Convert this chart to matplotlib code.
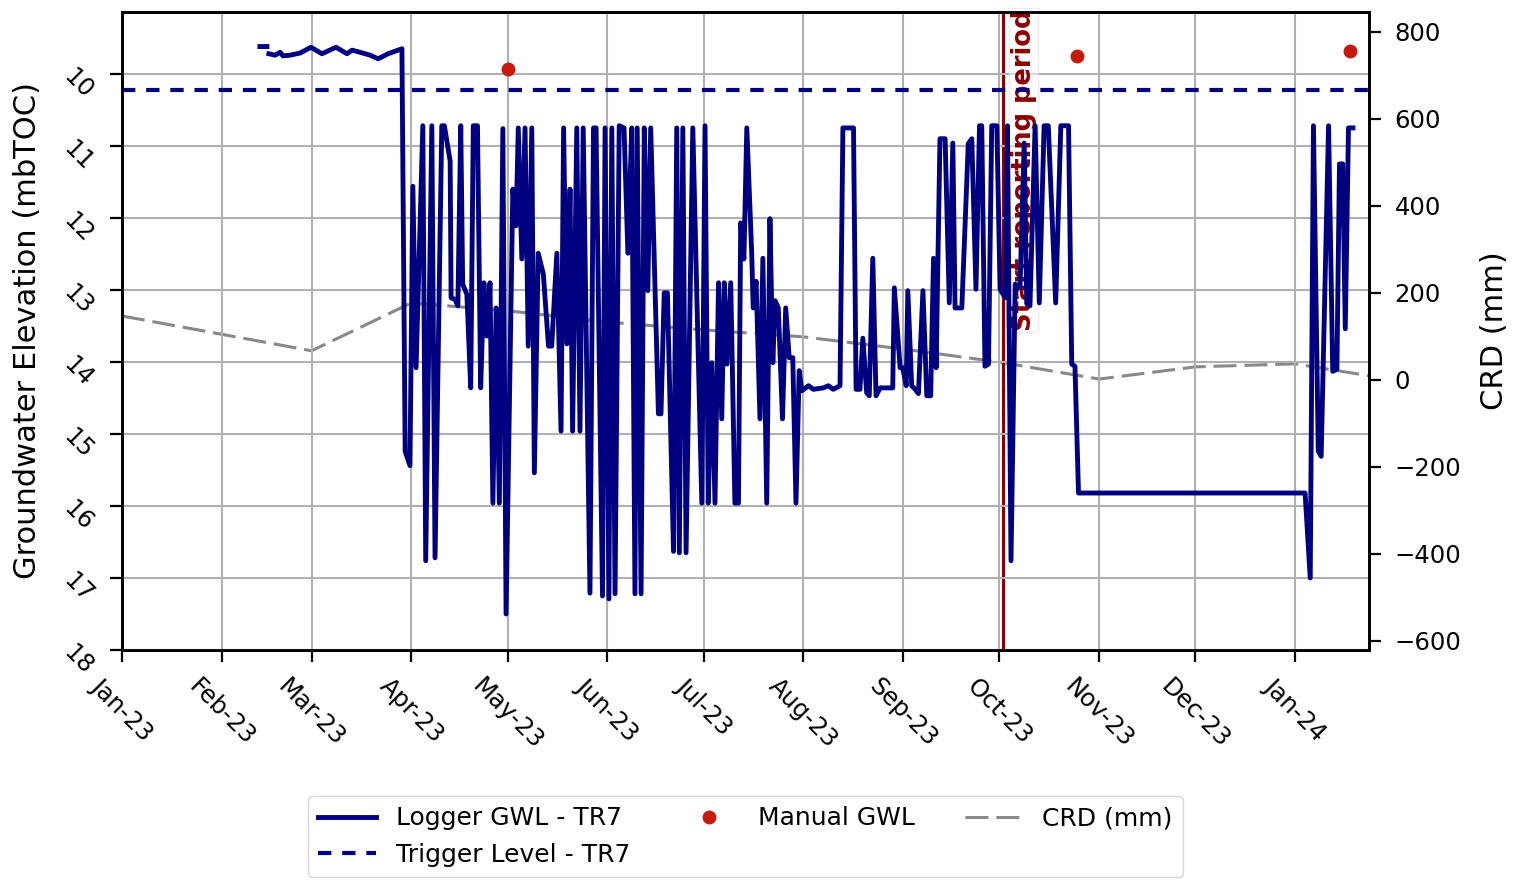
import numpy as np
import pandas as pd
import matplotlib
matplotlib.use("Agg")
import matplotlib.pyplot as plt
import matplotlib.dates as mdates
import matplotlib.transforms as mtransforms

START = pd.Timestamp("2023-01-01")

# logger readings, days after 1 Jan 2023 and depth (mbTOC); nan marks a gap
logger_days = [
    42.9, 45.1, 45.4, 45.7, 47.6, 49.2, 50.1, 52.3, 55.4, 58.8, 62.2, 66.6,
    70.0, 71.6, 74.1, 77.2, 79.7, 82.8, 87.1,
    88.1, 89.6, 90.5, 91.5, 93.6, 94.5, 96.4, 97.4, 99.5, 100.3, 102.1, 102.4,
    103.6, 104.5, 105.4, 106.0, 107.3, 108.5, 109.3, 110.6, 111.6, 112.6, 113.5,
    114.5, 115.4, 116.4, 117.4, 118.5, 119.5, 121.6, 122.6, 123.3, 124.4, 125.4,
    126.4, 127.5, 128.3, 129.5, 131.1, 132.7, 133.7, 135.3, 136.6, 137.4, 138.4,
    139.4, 140.2, 141.5, 142.5, 143.5, 145.6, 146.7, 147.5, 149.5, 150.3, 151.5,
    152.4, 153.4, 154.7, 156.2, 157.4, 158.6, 159.6, 160.3, 161.5, 162.5, 163.6,
    164.5, 166.9, 167.7, 168.7, 169.7, 171.6, 172.6, 173.4, 174.5, 175.5, 177.6,
    180.4, 181.4, 182.4, 183.5, 184.5, 185.6, 186.6, 187.4, 188.2, 189.4, 190.7,
    191.8, 192.5, 193.5, 194.4, 195.9, 196.4, 197.3, 198.5, 199.4, 200.6, 201.6,
    202.5, 203.2, 204.2, 205.5, 206.5, 207.6, 208.7, 209.7, 210.7, 211.5, 213.6,
    215.1, 218.2, 219.8, 221.3, 223.4, 224.3, 227.6, 228.4, 229.6, 230.5, 231.7,
    232.5, 233.6, 234.6, 235.9, 239.8, 240.3, 242.1, 242.9, 244.0, 244.5, 245.7,
    246.8, 247.8, 249.2, 250.4, 251.6, 252.5, 253.3, 254.5, 256.1, 257.4, 258.5,
    259.2, 261.3, 263.3, 264.4, 265.7, 266.8, 267.5, 268.5, 269.6, 270.6, 272.2,
    273.2, 274.8, 275.5, 276.6, 277.9, 279.4, 280.7, 281.5, 282.5, 284.1, 285.4,
    286.9, 288.2, 290.5, 292.1, 294.5, 295.5, 296.5, 297.6, 368.1, 369.7, 370.7,
    372.2, 373.1, 375.4, 376.7, 378.0, 378.8, 379.8, 380.6, 381.6, 383.0,
]
logger_gwl = [
    9.62, 9.62, np.nan, 9.72, 9.74, 9.70, 9.75, 9.74, 9.71, 9.63, 9.72, 9.63,
    9.72, 9.67, 9.70, 9.74, 9.79, 9.72, 9.65,
    15.24, 15.44, 11.56, 14.08, 10.72, 16.76, 10.72, 16.72, 10.72, 10.72, 11.21, 13.11,
    13.13, 13.22, 10.72, 12.92, 13.06, 14.36, 10.72, 10.72, 14.36, 12.90, 13.64,
    12.90, 15.96, 13.25, 15.96, 10.76, 17.50, 11.60, 12.11, 10.75, 12.57, 10.75,
    13.78, 10.75, 15.54, 12.49, 12.78, 13.78, 13.78, 12.49, 14.96, 10.75, 13.75,
    11.60, 14.96, 10.75, 14.96, 10.75, 17.21, 10.75, 10.75, 17.25, 10.75, 17.29,
    10.75, 17.22, 10.72, 10.75, 12.49, 10.75, 17.22, 10.75, 17.22, 10.75, 13.01,
    10.75, 14.72, 14.72, 13.04, 13.04, 16.63, 10.75, 16.65, 10.75, 16.65, 10.75,
    15.96, 10.72, 15.96, 14.01, 15.96, 12.90, 14.79, 12.90, 14.03, 12.90, 15.96,
    15.96, 12.07, 12.57, 10.75, 12.46, 13.25, 12.88, 14.79, 12.56, 15.96, 12.01,
    14.01, 13.15, 13.25, 14.79, 13.25, 13.94, 13.94, 15.96, 14.12, 14.40, 14.33,
    14.38, 14.36, 14.33, 14.38, 14.33, 10.75, 10.75, 14.38, 14.38, 13.67, 14.43,
    14.47, 12.56, 14.47, 14.36, 14.36, 12.97, 14.08, 14.08, 14.33, 13.01, 14.33,
    14.38, 14.44, 13.01, 14.47, 14.47, 12.56, 14.08, 10.90, 10.90, 13.18, 10.96,
    13.25, 13.25, 10.97, 10.90, 12.99, 10.72, 10.72, 14.06, 14.03, 10.72, 10.72,
    12.99, 13.11, 10.72, 16.76, 12.92, 12.97, 10.96, 13.19, 13.22, 10.72, 13.18,
    10.72, 10.72, 13.18, 10.72, 10.72, 14.03, 14.06, 15.82, 15.82, 17.00, 10.72,
    15.24, 15.31, 10.72, 14.13, 14.10, 11.25, 11.25, 13.54, 10.75, 10.75,
]

manual_dates = ["2023-05-01", "2023-10-25", "2024-01-18"]
manual_gwl = [9.93, 9.75, 9.68]

crd_dates = [
    "2023-01-01", "2023-03-01", "2023-04-01", "2023-05-01", "2023-06-01",
    "2023-07-01", "2023-08-01", "2023-09-01", "2023-10-01", "2023-11-01",
    "2023-12-01", "2024-01-01", "2024-02-01",
]
crd_mm = [147, 67, 177, 159, 133, 115, 99, 71, 41, 2, 30, 37, 0]

trigger_level = 10.22
report_start = "2023-10-02"


def to_dates(days):
    return START + pd.to_timedelta(np.array(days), unit="D")


logger_t = to_dates(logger_days)
manual_t = pd.to_datetime(manual_dates)
crd_t = pd.to_datetime(crd_dates)
report_t = pd.Timestamp(report_start)

fig = plt.figure(figsize=(15.21, 8.81), dpi=100)
ax = fig.add_axes([0.0802, 0.2622, 0.8199, 0.7242])
ax2 = ax.twinx()
# keep the groundwater series above the CRD line
ax.set_zorder(ax2.get_zorder() + 1)
ax.patch.set_visible(False)

ax.plot(logger_t, logger_gwl, color="navy", lw=3.5, label="Logger GWL - TR7")
ax.axhline(trigger_level, color="navy", lw=3, ls=(0, (3.2, 2.6)),
           label="Trigger Level - TR7")
ax.plot(manual_t, manual_gwl, "o", ls="none", color="#c8190f", ms=9,
        label="Manual GWL")
ax2.plot(crd_t, crd_mm, color="#888888", lw=2.2, ls=(0, (7.5, 2.6)),
         label="CRD (mm)")

ax.axvline(report_t, color="darkred", lw=2.2, zorder=1.5)
trans = mtransforms.blended_transform_factory(ax.transData, ax.transAxes)
ax.text(report_t + pd.Timedelta(days=2.5), 1.004, "Start reporting period",
        transform=trans, rotation=90, ha="left", va="top", color="darkred",
        fontweight="bold", fontsize=18.5, zorder=1.6,
        bbox=dict(facecolor="white", edgecolor="#dddddd", alpha=0.5, pad=1))

ax.set_xlim(START, pd.Timestamp("2024-01-24"))
ax.set_ylim(18, 9.14)
ax.set_yticks(range(10, 19))
ax2.set_ylim(-621, 846)
ax2.set_yticks(range(-600, 801, 200))

ax.xaxis.set_major_locator(mdates.MonthLocator())
ax.xaxis.set_major_formatter(mdates.DateFormatter("%b-%y"))
ax.grid(True, color="#b0b0b0", lw=1.5)

ax.tick_params(axis="both", labelsize=17.5, length=8.5, width=1.6, pad=9)
ax.tick_params(axis="x", labelrotation=-45)
ax.tick_params(axis="y", labelrotation=-45)
ax2.tick_params(axis="y", labelsize=17.5, length=8.5, width=1.6, pad=10)
for a in (ax, ax2):
    for spine in a.spines.values():
        spine.set_linewidth(2)

ax.set_ylabel("Groundwater Elevation (mbTOC)", fontsize=22, labelpad=12)
ax2.set_ylabel("CRD (mm)", fontsize=22, labelpad=13)

h1, l1 = ax.get_legend_handles_labels()
h2, l2 = ax2.get_legend_handles_labels()
ax.legend(h1 + h2, l1 + l2, loc="upper center", bbox_to_anchor=(0.5, -0.21),
          ncol=3, fontsize=18, handlelength=2.3, columnspacing=2.0)

fig.savefig("out.png", dpi=100)
